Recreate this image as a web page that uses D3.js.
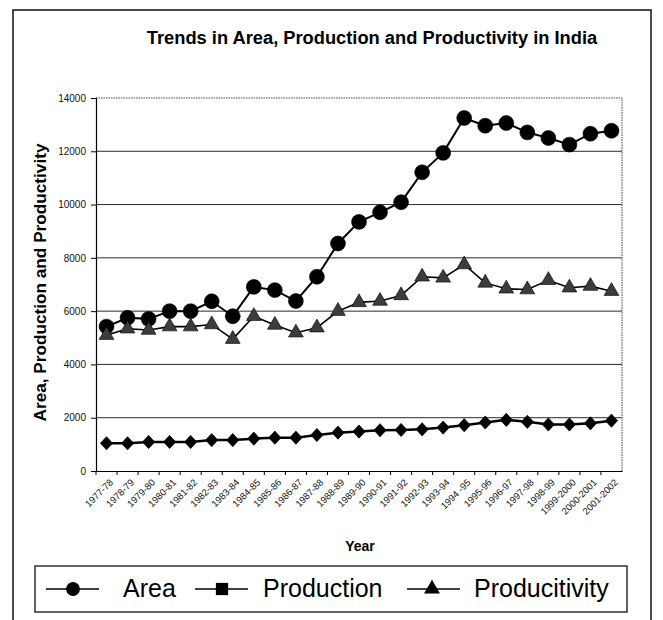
<!DOCTYPE html>
<html>
<head>
<meta charset="utf-8">
<script src="https://cdn.jsdelivr.net/npm/d3@7"></script>
<style>
  body { margin: 0; background: #fff; }
  svg { font-family: "Liberation Sans", Arial, sans-serif; }
  .grid line { stroke: #2a2a2a; stroke-width: 1; }
  .y.axis text, .x.axis text { fill: #111; }
</style>
</head>
<body>
<div id="chart-area"><svg></svg></div>
<script>
const years = [
  "1977-78", "1978-79", "1979-80", "1980-81", "1981-82", "1982-83", "1983-84",
  "1984-85", "1985-86", "1986-87", "1987-88", "1988-89", "1989-90", "1990-91",
  "1991-92", "1992-93", "1993-94", "1994 -95", "1995-96", "1996-97", "1997-98",
  "1998-99", "1999-2000", "2000-2001", "2001-2002"
];
const area = [
  5420, 5750, 5710, 6000, 6000, 6370, 5810, 6910, 6790, 6380, 7290, 8540, 9350,
  9710, 10090, 11210, 11940, 13250, 12960, 13060, 12710, 12500, 12250, 12660, 12770
];
const productivity = [
  5100, 5340, 5290, 5420, 5420, 5500, 4950, 5810, 5480, 5190, 5380, 6000, 6330,
  6380, 6590, 7290, 7250, 7750, 7060, 6840, 6810, 7160, 6880, 6940, 6750
];
const production = [
  1040, 1040, 1090, 1090, 1090, 1160, 1160, 1215, 1250, 1250, 1350, 1440, 1480,
  1530, 1540, 1565, 1630, 1720, 1820, 1920, 1845, 1745, 1745, 1790, 1890
];
const yTicks = [0, 2000, 4000, 6000, 8000, 10000, 12000, 14000];
const legendItems = [
  { label: "Area", symbol: d3.symbolCircle, size: 150 },
  { label: "Production", symbol: d3.symbolSquare, size: 150 },
  { label: "Producitivity", symbol: d3.symbolTriangle, size: 110 }
];

const chartSize = { width: 663, height: 620 };
const margin = { left: 96, right: 41, top: 98, bottom: 149 };
const width = chartSize.width - margin.left - margin.right;
const height = chartSize.height - margin.top - margin.bottom;

const svg = d3.select("#chart-area svg")
  .attr("width", chartSize.width)
  .attr("height", chartSize.height);

// outer frame
svg.append("rect")
  .attr("x", 13).attr("y", 10)
  .attr("width", 638).attr("height", 625)
  .attr("fill", "none").attr("stroke", "#111").attr("stroke-width", 1.5);

svg.append("text")
  .attr("x", 372).attr("y", 44)
  .attr("text-anchor", "middle")
  .attr("font-weight", "bold").attr("font-size", 18.3)
  .text("Trends in Area, Production and Productivity in India");

const g = svg.append("g")
  .attr("transform", `translate(${margin.left},${margin.top})`);

const x = d3.scaleBand().domain(years).range([0, width]);
const y = d3.scaleLinear().domain([0, 14000]).range([height, 0]);
const cx = d => x(d) + x.bandwidth() / 2;

// gridlines
g.append("g").attr("class", "grid")
  .selectAll("line").data(yTicks.slice(1, -1)).enter().append("line")
  .attr("x1", 0).attr("x2", width)
  .attr("y1", d => y(d)).attr("y2", d => y(d));

// dotted top / right border
g.append("path")
  .attr("d", `M0,0H${width}V${height}`)
  .attr("fill", "none").attr("stroke", "#444")
  .attr("stroke-width", 1).attr("stroke-dasharray", "1.5,1");

const yAxis = d3.axisLeft(y).tickValues(yTicks).tickSize(5).tickFormat(d3.format("d"));
g.append("g").attr("class", "y axis").call(yAxis)
  .call(a => a.selectAll("text").attr("font-size", 10).attr("dx", -2))
  .call(a => a.select(".domain").attr("stroke", "#000").attr("stroke-width", 1.2));

const xAxis = d3.axisBottom(x).tickSize(0).tickFormat(d => d);
const xg = g.append("g").attr("class", "x axis")
  .attr("transform", `translate(0,${height})`).call(xAxis);
xg.select(".domain").attr("stroke", "#000").attr("stroke-width", 1.2);
xg.selectAll("text")
  .attr("font-size", 9.5)
  .attr("text-anchor", "end")
  .attr("dy", 0)
  .attr("transform", "translate(5,10) rotate(-45)");

// category boundary ticks
xg.selectAll(".btick").data(years).enter().append("line")
  .attr("class", "btick")
  .attr("x1", d => x(d)).attr("x2", d => x(d))
  .attr("y1", 0).attr("y2", 4)
  .attr("stroke", "#000");

g.append("text")
  .attr("transform", `translate(-50,${height / 2 - 2}) rotate(-90)`)
  .attr("text-anchor", "middle")
  .attr("font-weight", "bold").attr("font-size", 17.2)
  .text("Area, Production and Productivity");

g.append("text")
  .attr("x", width / 2 + 1).attr("y", height + 80)
  .attr("text-anchor", "middle")
  .attr("font-weight", "bold").attr("font-size", 14)
  .text("Year");

const series = [
  { values: area, symbol: d3.symbolCircle, size: 175, fill: "#000", lw: 2, sx: 1 },
  { values: productivity, symbol: d3.symbolTriangle, size: 95, fill: "#3c3c3c", lw: 1.6, sx: 1 },
  { values: production, symbol: d3.symbolDiamond, size: 50, fill: "#000", lw: 2.5, sx: 1.6 }
];

const line = d3.line().x((v, i) => cx(years[i])).y(v => y(v));

series.forEach(s => {
  g.append("path")
    .attr("d", line(s.values))
    .attr("fill", "none").attr("stroke", "#000").attr("stroke-width", s.lw);
  g.append("g").selectAll("path").data(s.values).enter().append("path")
    .attr("transform", (v, i) => `translate(${cx(years[i])},${y(v)}) scale(${s.sx},1)`)
    .attr("d", d3.symbol().type(s.symbol).size(s.size))
    .attr("fill", s.fill).attr("stroke", "#000").attr("stroke-width", 0.6);
});

// legend
const legend = svg.append("g");
legend.append("rect")
  .attr("x", 35).attr("y", 566).attr("width", 592).attr("height", 46)
  .attr("fill", "#fff").attr("stroke", "#111").attr("stroke-width", 1.3);

const legendX = [{ l: 46, m: 73, t: 123 }, { l: 195, m: 222, t: 263 }, { l: 407, m: 432, t: 474 }];
legendItems.forEach((item, i) => {
  const p = legendX[i];
  legend.append("line")
    .attr("x1", p.l).attr("x2", p.l + 53).attr("y1", 589).attr("y2", 589)
    .attr("stroke", "#000").attr("stroke-width", 1.6);
  legend.append("path")
    .attr("transform", `translate(${p.m},589)`)
    .attr("d", d3.symbol().type(item.symbol).size(item.size))
    .attr("fill", "#000");
  legend.append("text")
    .attr("x", p.t).attr("y", 597)
    .attr("font-size", 25)
    .text(item.label);
});
</script>
</body>
</html>
